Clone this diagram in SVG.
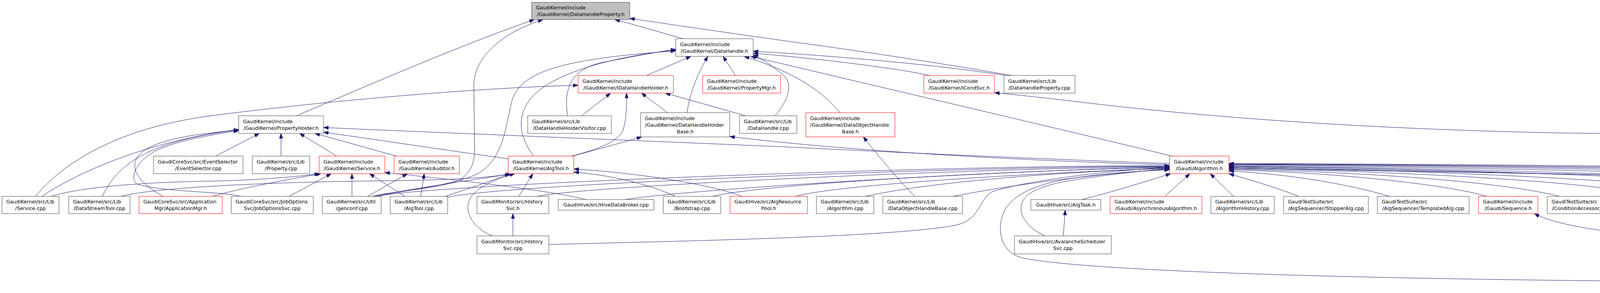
<svg xmlns="http://www.w3.org/2000/svg" width="6398" height="749" viewBox="0 0 6398 749">
<defs>
<style>
.node rect{fill:#ffffff;stroke:#404040;stroke-width:1}
.node rect.red{stroke:#ff0000}
.node rect.root{fill:#bfbfbf}
text{font-family:"DejaVu Sans","Liberation Sans",sans-serif;font-size:12.7px;fill:#000000}
.c{text-anchor:middle}
#edges path{fill:none;stroke:#191970;stroke-width:1;marker-end:url(#arr)}
</style>
<marker id="arr" viewBox="0 0 13 9" refX="13" refY="4.5" markerWidth="13" markerHeight="9" markerUnits="userSpaceOnUse" orient="auto"><path d="M0,0 L13,4.5 L0,9 z" fill="#191970" stroke="#191970" stroke-width="1"/></marker>
</defs>
<rect x="0" y="0" width="6398" height="749" fill="#ffffff"/>
<g id="edges">
<path d="M759,296 C950,215 1180,115 1368,50"/>
<path d="M953,502 C990,490 1140,482 1180,458 C1212,435 1215,405 1215,380 L1213,220 C1212,150 1280,85 1390,50"/>
<path d="M1748,99 C1700,85 1620,62 1574,50"/>
<path d="M2590,193 C2400,160 2200,130 2000,103 C1850,82 1700,60 1612,47"/>
<path d="M1655,193 L1769,144"/>
<path d="M1759,288 C1765,240 1785,190 1812,144"/>
<path d="M1883,193 L1851,144"/>
<path d="M1984,296 C2015,260 2035,215 2003,190 C1980,172 1960,155 1928,140"/>
<path d="M2150,288 C2110,240 2050,190 1905,144"/>
<path d="M1453,296 C1445,240 1450,180 1540,160 C1620,145 1680,133 1730,126"/>
<path d="M1366,399 C1330,350 1320,300 1360,250 C1420,180 1600,140 1730,128"/>
<path d="M958,502 C1050,485 1180,470 1230,440 C1290,400 1295,320 1310,260 C1330,180 1450,150 1730,130"/>
<path d="M2575,193 C2400,165 2100,140 1928,131"/>
<path d="M2380,193 C2300,175 2100,150 1928,136"/>
<path d="M3000,399 C2800,350 2200,210 1922,144"/>
<path d="M91,502 C150,430 280,330 540,296 C800,262 1200,225 1480,218"/>
<path d="M1489,296 L1563,238"/>
<path d="M1463,399 C1530,382 1585,362 1596,330 C1604,300 1604,270 1604,238"/>
<path d="M1709,288 L1642,238"/>
<path d="M1909,296 L1703,238"/>
<path d="M719.5,399 L719.5,341"/>
<path d="M552,399 L664,341"/>
<path d="M862,399 L767,341"/>
<path d="M1015,399 L806,341"/>
<path d="M2994,418 C2700,408 2300,390 2000,375 C1600,358 1100,338 828,326"/>
<path d="M1301,406 C1150,385 950,355 828,338"/>
<path d="M107,502 C200,440 380,360 611,331"/>
<path d="M262,502 C300,420 380,360 611,332"/>
<path d="M418,502 C340,460 320,410 380,378 C430,352 520,340 611,333"/>
<path d="M616,502 C580,490 400,490 350,470 C330,455 350,410 400,385 C450,360 540,345 611,334"/>
<path d="M1465,399 C1530,382 1600,362 1643,350"/>
<path d="M2994,421 C2700,414 2200,390 1868,349"/>
<path d="M2342,502 C2300,460 2250,400 2210,350"/>
<path d="M6236,502 C6100,470 5700,420 5300,375 C5000,350 4500,345 4000,340 C3500,330 3100,300 2800,265 C2700,253 2620,244 2546,237"/>
<path d="M131,502 C200,480 350,466 540,463 C650,461 750,453 818,444"/>
<path d="M544,502 C620,480 740,458 822,444"/>
<path d="M740,502 L848,444"/>
<path d="M901,502 L901,444"/>
<path d="M1036,502 L946,444"/>
<path d="M1500,510 C1400,485 1150,458 985,441"/>
<path d="M941,502 L1043,444"/>
<path d="M1077,502 L1086,444"/>
<path d="M1139,502 C1200,482 1260,462 1305,444"/>
<path d="M1328,502 L1364,444"/>
<path d="M1261,603 C1220,588 1195,555 1198,525 C1201,485 1265,458 1318,444"/>
<path d="M310,502 C400,478 700,465 1000,462 C1150,460 1250,455 1308,444"/>
<path d="M962,502 C1050,482 1200,462 1312,444"/>
<path d="M1313,603 L1313,546"/>
<path d="M2722,603 L2727,537"/>
<path d="M2770,510 C2850,490 2930,465 2997,444"/>
<path d="M2982,502 L3046,444"/>
<path d="M3158,502 L3098,444"/>
<path d="M3325,502 C3270,480 3200,460 3146,444"/>
<path d="M1405,625 C1800,615 2300,605 2450,575 C2510,560 2505,510 2540,490 C2650,455 2900,432 2994,428"/>
<path d="M2676,603 C2640,588 2612,560 2614,530 C2616,495 2660,478 2720,465 C2820,448 2930,436 2994,431"/>
<path d="M4115,718 C3500,712 2800,695 2620,660 C2560,645 2555,590 2565,555 C2580,500 2650,470 2750,455 C2850,440 2950,436 2994,434"/>
<path d="M4620,623 C4800,615 5100,595 5150,565 C5185,540 5185,500 5150,487 C4900,462 3700,436 3146,428"/>
<path d="M4428,620 C4200,605 4000,585 3928,546"/>
<path d="M4396,712 C4900,690 5500,650 5862,633"/>
<path d="M5986,603 L6055,546"/>
<path d="M5962,603 C5966,570 5960,520 5930,495 C5880,475 4000,445 3146,430"/>
<path d="M3557,502 C3450,470 3300,445 3146,437"/>
<path d="M3806,502 C3700,470 3400,440 3146,434"/>
<path d="M3992,502 C3850,465 3500,440 3146,432"/>
<path d="M4227,502 C4100,465 3600,438 3146,430"/>
<path d="M4478,502 C4300,465 3700,435 3146,428"/>
<path d="M4678,495 C4500,460 3800,432 3146,426"/>
<path d="M4960,502 C4800,465 4000,432 3146,425"/>
<path d="M5259,502 C5100,465 4200,430 3146,423"/>
<path d="M5529,502 C5350,465 4400,428 3146,421"/>
<path d="M5761,502 C5600,465 4600,426 3146,420"/>
<path d="M6022,502 C5850,465 4800,425 3146,419"/>
<path d="M6236,502 C6000,462 5000,423 3146,418"/>
<path d="M965,502 C1100,470 2500,420 2994,424"/>
<path d="M1146,504 C1300,470 2500,425 2994,425"/>
<path d="M1375,502 C1500,475 2500,430 2994,426"/>
<path d="M1600,510 C1800,480 2600,435 2994,427"/>
<path d="M1824,502 C1950,470 2600,435 2994,428"/>
<path d="M2036,502 C2150,470 2700,440 2994,430"/>
<path d="M2216,502 C2400,460 2800,435 2994,431"/>
<path d="M2440,502 C2600,470 2850,440 2994,433"/>
<path d="M1900,502 C1800,465 1600,440 1469,432"/>
<path d="M1729,502 C1660,470 1560,447 1469,440"/>
</g>
<g id="n_root" class="node"><rect class="root" x="1361" y="6" width="251" height="44"/><text x="1372" y="24">GaudiKernel/include</text><text class="c" x="1486.5" y="41">/GaudiKernel/DataHandleProperty.h</text></g>
<g id="n_dh" class="node"><rect x="1730" y="99" width="198" height="45"/><text x="1741" y="117.5">GaudiKernel/include</text><text class="c" x="1829" y="134.5">/GaudiKernel/DataHandle.h</text></g>
<g id="n_idhh" class="node"><rect class="red" x="1480" y="193" width="244" height="45"/><text x="1491" y="211.5">GaudiKernel/include</text><text class="c" x="1602" y="228.5">/GaudiKernel/IDataHandleHolder.h</text></g>
<g id="n_pmgr" class="node"><rect class="red" x="1799" y="193" width="199" height="45"/><text x="1810" y="211.5">GaudiKernel/include</text><text class="c" x="1898.5" y="228.5">/GaudiKernel/PropertyMgr.h</text></g>
<g id="n_icond" class="node"><rect class="red" x="2365" y="193" width="181" height="45"/><text x="2376" y="211.5">GaudiKernel/include</text><text class="c" x="2455.5" y="228.5">/GaudiKernel/ICondSvc.h</text></g>
<g id="n_dhpcpp" class="node"><rect x="2570" y="193" width="182" height="45"/><text x="2581" y="211.5">GaudiKernel/src/Lib</text><text class="c" x="2661" y="228.5">/DataHandleProperty.cpp</text></g>
<g id="n_ph" class="node"><rect x="611" y="296" width="217" height="45"/><text x="622" y="314.5">GaudiKernel/include</text><text class="c" x="719.5" y="331.5">/GaudiKernel/PropertyHolder.h</text></g>
<g id="n_dhhv" class="node"><rect x="1351" y="296" width="214" height="45"/><text x="1362" y="314.5">GaudiKernel/src/Lib</text><text class="c" x="1458" y="331.5">/DataHandleHolderVisitor.cpp</text></g>
<g id="n_dhhb" class="node"><rect x="1640" y="288" width="228" height="62"/><text x="1651" y="306.5">GaudiKernel/include</text><text x="1651" y="323.5">/GaudiKernel/DataHandleHolder</text><text class="c" x="1754" y="340.5">Base.h</text></g>
<g id="n_dhcpp" class="node"><rect x="1893" y="296" width="147" height="45"/><text x="1904" y="314.5">GaudiKernel/src/Lib</text><text class="c" x="1966.5" y="331.5">/DataHandle.cpp</text></g>
<g id="n_dohb" class="node"><rect class="red" x="2063" y="288" width="228" height="62"/><text x="2074" y="306.5">GaudiKernel/include</text><text x="2074" y="323.5">/GaudiKernel/DataObjectHandle</text><text class="c" x="2177" y="340.5">Base.h</text></g>
<g id="n_es" class="node"><rect x="393" y="399" width="229" height="45"/><text x="404" y="417.5">GaudiCoreSvc/src/EventSelector</text><text class="c" x="507.5" y="434.5">/EventSelector.cpp</text></g>
<g id="n_propcpp" class="node"><rect x="646" y="399" width="147" height="45"/><text x="657" y="417.5">GaudiKernel/src/Lib</text><text class="c" x="719.5" y="434.5">/Property.cpp</text></g>
<g id="n_svch" class="node"><rect class="red" x="817" y="399" width="168" height="45"/><text x="828" y="417.5">GaudiKernel/include</text><text class="c" x="901" y="434.5">/GaudiKernel/Service.h</text></g>
<g id="n_audh" class="node"><rect class="red" x="1009" y="399" width="167" height="45"/><text x="1020" y="417.5">GaudiKernel/include</text><text class="c" x="1092.5" y="434.5">/GaudiKernel/Auditor.h</text></g>
<g id="n_algtoolh" class="node"><rect class="red" x="1301" y="399" width="168" height="45"/><text x="1312" y="417.5">GaudiKernel/include</text><text class="c" x="1385" y="434.5">/GaudiKernel/AlgTool.h</text></g>
<g id="n_algh" class="node"><rect class="red" x="2994" y="399" width="152" height="45"/><text x="3005" y="417.5">GaudiKernel/include</text><text class="c" x="3070" y="434.5">/Gaudi/Algorithm.h</text></g>
<g id="n_svccpp" class="node"><rect x="5" y="502" width="146" height="44"/><text x="16" y="520">GaudiKernel/src/Lib</text><text class="c" x="78" y="537">/Service.cpp</text></g>
<g id="n_dst" class="node"><rect x="176" y="502" width="157" height="44"/><text x="187" y="520">GaudiKernel/src/Lib</text><text class="c" x="254.5" y="537">/DataStreamTool.cpp</text></g>
<g id="n_appmgr" class="node"><rect class="red" x="356" y="502" width="213" height="44"/><text x="367" y="520">GaudiCoreSvc/src/Application</text><text class="c" x="462.5" y="537">Mgr/ApplicationMgr.h</text></g>
<g id="n_jos" class="node"><rect x="592" y="502" width="210" height="44"/><text x="603" y="520">GaudiCoreSvc/src/JobOptions</text><text class="c" x="697" y="537">Svc/JobOptionsSvc.cpp</text></g>
<g id="n_genconf" class="node"><rect x="825" y="502" width="151" height="44"/><text x="836" y="520">GaudiKernel/src/Util</text><text class="c" x="900.5" y="537">/genconf.cpp</text></g>
<g id="n_algtoolcpp" class="node"><rect x="999" y="502" width="147" height="44"/><text x="1010" y="520">GaudiKernel/src/Lib</text><text class="c" x="1072.5" y="537">/AlgTool.cpp</text></g>
<g id="n_histsvch" class="node"><rect x="1221" y="502" width="184" height="44"/><text x="1232" y="520">GaudiMonitor/src/History</text><text class="c" x="1313" y="537">Svc.h</text></g>
<g id="n_hdb" class="node"><rect x="1429" y="510" width="245" height="27"/><text class="c" x="1551.5" y="528">GaudiHive/src/HiveDataBroker.cpp</text></g>
<g id="n_boot" class="node"><rect x="1698" y="502" width="147" height="44"/><text x="1709" y="520">GaudiKernel/src/Lib</text><text class="c" x="1771.5" y="537">/Bootstrap.cpp</text></g>
<g id="n_arp" class="node"><rect class="red" x="1869" y="502" width="198" height="44"/><text x="1880" y="520">GaudiHive/src/AlgResource</text><text class="c" x="1968" y="537">Pool.h</text></g>
<g id="n_algcpp" class="node"><rect x="2090" y="502" width="147" height="44"/><text x="2101" y="520">GaudiKernel/src/Lib</text><text class="c" x="2163.5" y="537">/Algorithm.cpp</text></g>
<g id="n_dohbcpp" class="node"><rect x="2260" y="502" width="204" height="44"/><text x="2271" y="520">GaudiKernel/src/Lib</text><text class="c" x="2362" y="537">/DataObjectHandleBase.cpp</text></g>
<g id="n_algtask" class="node"><rect x="2639" y="510" width="179" height="27"/><text class="c" x="2728.5" y="528">GaudiHive/src/AlgTask.h</text></g>
<g id="n_asyncalg" class="node"><rect class="red" x="2842" y="502" width="235" height="44"/><text x="2853" y="520">GaudiKernel/include</text><text class="c" x="2959.5" y="537">/Gaudi/AsynchronousAlgorithm.h</text></g>
<g id="n_alghist" class="node"><rect x="3100" y="502" width="162" height="44"/><text x="3111" y="520">GaudiKernel/src/Lib</text><text class="c" x="3181" y="537">/AlgorithmHistory.cpp</text></g>
<g id="n_stopper" class="node"><rect x="3286" y="502" width="217" height="44"/><text x="3297" y="520">GaudiTestSuite/src</text><text class="c" x="3394.5" y="537">/AlgSequencer/StopperAlg.cpp</text></g>
<g id="n_templ" class="node"><rect x="3526" y="502" width="235" height="44"/><text x="3537" y="520">GaudiTestSuite/src</text><text class="c" x="3643.5" y="537">/AlgSequencer/TemplatedAlg.cpp</text></g>
<g id="n_seq" class="node"><rect class="red" x="3785" y="502" width="152" height="44"/><text x="3796" y="520">GaudiKernel/include</text><text class="c" x="3861" y="537">/Gaudi/Sequence.h</text></g>
<g id="n_user" class="node"><rect x="3961" y="502" width="205" height="44"/><text x="3972" y="520">GaudiTestSuite/src</text><text class="c" x="4063.5" y="537">/ConditionAccessor/User.cpp</text></g>
<g id="n_hwa" class="node"><rect x="4190" y="502" width="232" height="44"/><text x="4201" y="520">GaudiTestSuite/src</text><text class="c" x="4306" y="537">/FileSvc/HistogramWriterAlg.cpp</text></g>
<g id="n_ntwa" class="node"><rect x="4446" y="502" width="208" height="44"/><text x="4457" y="520">GaudiTestSuite/src</text><text class="c" x="4550" y="537">/FileSvc/NTupleWriterAlg.cpp</text></g>
<g id="n_fsm" class="node"><rect x="4678" y="493" width="222" height="62"/><text x="4689" y="511.5">GaudiTestSuite/src</text><text x="4689" y="528.5">/FSMCallback/FSMCallbackTest</text><text class="c" x="4789" y="545.5">Algo.cpp</text></g>
<g id="n_ch" class="node"><rect x="4924" y="502" width="224" height="44"/><text x="4935" y="520">GaudiTestSuite/src</text><text class="c" x="5036" y="537">/Histograms/CounterHistos.cpp</text></g>
<g id="n_ntwp" class="node"><rect x="5222" y="502" width="249" height="44"/><text x="5233" y="520">GaudiTestSuite/src</text><text class="c" x="5346.5" y="537">/NTuple/NTupleWriterProducers.cpp</text></g>
<g id="n_am" class="node"><rect x="5495" y="502" width="212" height="44"/><text x="5506" y="520">GaudiCoreSvc/src/Application</text><text class="c" x="5601" y="537">Mgr/AlgorithmManager.cpp</text></g>
<g id="n_ipa" class="node"><rect class="red" x="5730" y="502" width="192" height="44"/><text x="5741" y="520">GaudiCoreSvc/src/Incident</text><text class="c" x="5826" y="537">Svc/IncidentProcAlg.h</text></g>
<g id="n_gkalg" class="node"><rect class="red" x="5996" y="502" width="185" height="44"/><text x="6007" y="520">GaudiKernel/include</text><text class="c" x="6088.5" y="537">/GaudiKernel/Algorithm.h</text></g>
<g id="n_prg" class="node"><rect class="red" x="6204" y="502" width="188" height="44"/><text x="6215" y="520">GaudiHive/src/PRGraph</text><text class="c" x="6298" y="537">/PrecedenceRulesGraph.h</text></g>
<g id="n_histsvccpp" class="node"><rect x="1221" y="603" width="184" height="46"/><text x="1232" y="622">GaudiMonitor/src/History</text><text class="c" x="1313" y="639">Svc.cpp</text></g>
<g id="n_avsched" class="node"><rect x="2597" y="603" width="248" height="46"/><text x="2608" y="622">GaudiHive/src/AvalancheScheduler</text><text class="c" x="2721" y="639">Svc.cpp</text></g>
<g id="n_precsvc" class="node"><rect x="4428" y="603" width="192" height="46"/><text x="4439" y="622">GaudiHive/src/Precedence</text><text class="c" x="4524" y="639">Svc.cpp</text></g>
<g id="n_details" class="node"><rect class="red" x="5862" y="603" width="195" height="46"/><text x="5873" y="622">GaudiFunctional/include</text><text class="c" x="5959.5" y="639">/Gaudi/Functional/details.h</text></g>
<g id="n_merge" class="node"><rect class="red" x="4115" y="698" width="281" height="45"/><text x="4126" y="716.5">GaudiFunctional/include</text><text class="c" x="4255.5" y="733.5">/Gaudi/Functional/MergingTransformer.h</text></g>
</svg>
